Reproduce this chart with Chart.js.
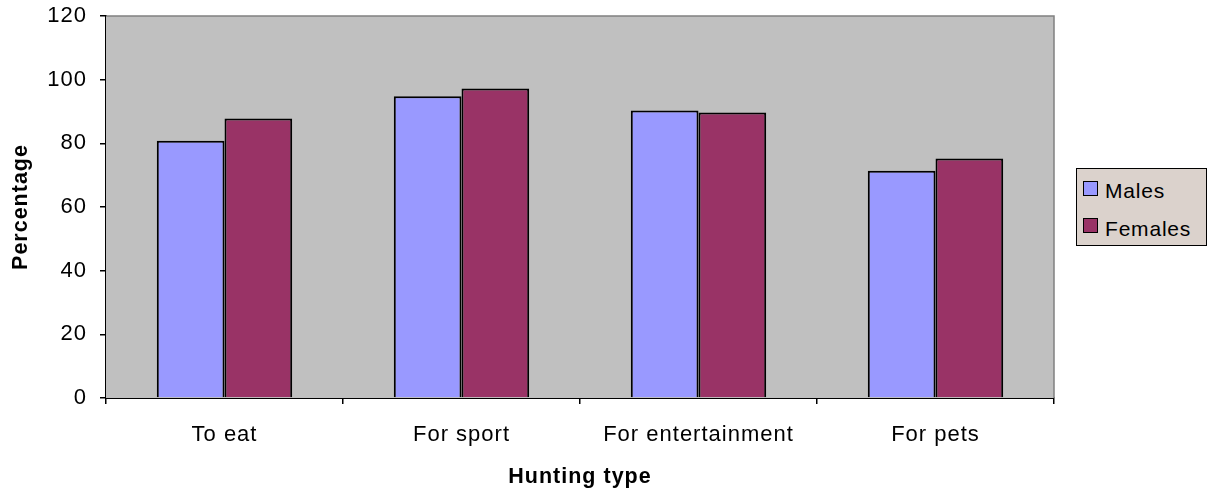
<!DOCTYPE html>
<html>
<head>
<meta charset="utf-8">
<script src="https://cdn.jsdelivr.net/npm/chart.js@4.4.1/dist/chart.umd.min.js"></script>
<style>
    html, body { margin: 0; padding: 0; background: #fff; }
    #wrap { position: relative; width: 1208px; height: 493px; }
    #legend {
        position: absolute; left: 1076px; top: 168px; width: 129px; height: 76px;
        border: 1px solid #000; background: #dbd2cc;
        font-family: "Liberation Sans", Arial, sans-serif; font-size: 21px; line-height: 21px;
        letter-spacing: 0.8px; color: #000;
    }
    .sw { position: absolute; left: 6px; width: 13px; height: 13px; border: 1px solid #000; }
    .txt { position: absolute; left: 28px; white-space: nowrap; }
</style>
</head>
<body>
<div id="wrap">
    <canvas id="myChart" width="1208" height="493"></canvas>
    <div id="legend"></div>
</div>
<script>
const categories = ['To eat', 'For sport', 'For entertainment', 'For pets'];
const seriesNames = ['Males', 'Females'];
const males = [80.8, 94.8, 90.3, 71.4];
const females = [87.8, 97.2, 89.7, 75.2];
const yTicks = [0, 20, 40, 60, 80, 100, 120];
const colors = ['#9999ff', '#993366'];

// plot background + grey top/right frame like the original
const plotFrame = {
    id: 'plotFrame',
    beforeDraw(chart) {
        // the old Excel Arial is set a bit wider than Liberation Sans
        chart.ctx.letterSpacing = '1px';
    },
    beforeDatasetsDraw(chart) {
        const { ctx, chartArea: a } = chart;
        ctx.save();
        ctx.fillStyle = '#c0c0c0';
        ctx.fillRect(a.left, a.top, a.right - a.left, a.bottom - a.top);
        ctx.strokeStyle = '#808080';
        ctx.lineWidth = 1.5;
        ctx.beginPath();
        ctx.moveTo(a.left, a.top);
        ctx.lineTo(a.right, a.top);
        ctx.lineTo(a.right, a.bottom);
        ctx.stroke();
        ctx.restore();
    }
};

document.addEventListener('DOMContentLoaded', () => {
    const ctx = document.getElementById('myChart').getContext('2d');
    new Chart(ctx, {
        type: 'bar',
        data: {
            labels: categories,
            datasets: [
                { label: seriesNames[0], data: males, backgroundColor: colors[0] },
                { label: seriesNames[1], data: females, backgroundColor: colors[1] }
            ].map(d => Object.assign(d, {
                borderColor: '#000',
                borderWidth: 2,
                categoryPercentage: 2 / 3.5,
                barPercentage: 1
            }))
        },
        options: {
            responsive: false,
            animation: false,
            layout: { padding: { top: 16, right: 154, left: 0, bottom: 0 } },
            plugins: { legend: { display: false }, tooltip: { enabled: false } },
            scales: {
                x: {
                    afterFit: s => { s.height = 95; s.paddingLeft = 0; s.paddingRight = 0; },
                    grid: { offset: true, drawOnChartArea: false, drawTicks: true, tickLength: 6, color: '#000', lineWidth: 1.5 },
                    border: { color: '#000', width: 2 },
                    ticks: { color: '#000', padding: 18, maxRotation: 0, autoSkip: false, font: { family: 'Liberation Sans', size: 22 } },
                    title: { display: true, text: 'Hunting type', color: '#000', padding: { top: 0, bottom: 3 },
                             font: { family: 'Liberation Sans', size: 21.5, weight: 'bold' } }
                },
                y: {
                    min: 0, max: 120,
                    afterFit: s => { s.width = 106; s.paddingTop = 0; s.paddingBottom = 0; },
                    afterBuildTicks: s => { s.ticks = yTicks.map(v => ({ value: v })); },
                    grid: { drawOnChartArea: false, drawTicks: true, tickLength: 6, color: '#000', lineWidth: 1.5 },
                    border: { color: '#000', width: 2 },
                    ticks: { color: '#000', padding: 13, font: { family: 'Liberation Sans', size: 22 } },
                    title: { display: true, text: 'Percentage', color: '#000', padding: { top: 8, bottom: 0 },
                             font: { family: 'Liberation Sans', size: 21.5, weight: 'bold' } }
                }
            }
        },
        plugins: [plotFrame]
    });

    const legend = document.getElementById('legend');
    seriesNames.forEach((name, i) => {
        const sw = document.createElement('div');
        sw.className = 'sw';
        sw.style.top = (i === 0 ? 12 : 49) + 'px';
        sw.style.background = colors[i];
        const txt = document.createElement('div');
        txt.className = 'txt';
        txt.style.top = (i === 0 ? 11 : 49) + 'px';
        txt.textContent = name;
        legend.appendChild(sw);
        legend.appendChild(txt);
    });
});
</script>
</body>
</html>
